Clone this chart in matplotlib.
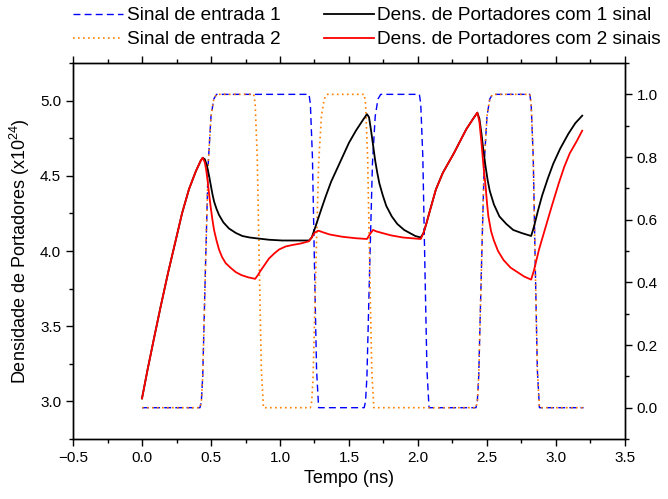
import numpy as np
import matplotlib.pyplot as plt
from matplotlib.ticker import MultipleLocator

plt.rcParams['font.family'] = ['Liberation Sans', 'DejaVu Sans']
plt.rcParams['mathtext.fontset'] = 'custom'
plt.rcParams['mathtext.rm'] = 'Liberation Sans'

# input signals (right axis)
t_sig1 = [0.00, 0.42, 0.43, 0.44, 0.46, 0.48, 0.50, 0.52, 0.54,
          1.21, 1.22, 1.235, 1.25, 1.265, 1.28,
          1.61, 1.62, 1.63, 1.65, 1.67, 1.69, 1.71, 1.73,
          2.01, 2.02, 2.035, 2.05, 2.065, 2.08,
          2.42, 2.43, 2.44, 2.46, 2.48, 2.50, 2.52, 2.54,
          2.81, 2.82, 2.835, 2.85, 2.865, 2.88, 3.20]
v_sig1 = [0.0, 0.0, 0.02, 0.10, 0.45, 0.78, 0.93, 0.985, 1.0,
          1.0, 0.97, 0.80, 0.45, 0.12, 0.0,
          0.0, 0.02, 0.10, 0.45, 0.78, 0.93, 0.985, 1.0,
          1.0, 0.97, 0.80, 0.45, 0.12, 0.0,
          0.0, 0.02, 0.10, 0.45, 0.78, 0.93, 0.985, 1.0,
          1.0, 0.97, 0.80, 0.45, 0.12, 0.0, 0.0]

t_sig2 = [0.00, 0.42, 0.43, 0.44, 0.46, 0.48, 0.50, 0.52, 0.54,
          0.81, 0.82, 0.835, 0.85, 0.865, 0.88,
          1.22, 1.23, 1.24, 1.26, 1.28, 1.30, 1.32, 1.34,
          1.61, 1.62, 1.635, 1.65, 1.665, 1.68,
          2.42, 2.43, 2.44, 2.46, 2.48, 2.50, 2.52, 2.54,
          2.81, 2.82, 2.835, 2.85, 2.865, 2.88, 3.20]
v_sig2 = [0.0, 0.0, 0.02, 0.10, 0.45, 0.78, 0.93, 0.985, 1.0,
          1.0, 0.97, 0.80, 0.45, 0.12, 0.0,
          0.0, 0.02, 0.10, 0.45, 0.78, 0.93, 0.985, 1.0,
          1.0, 0.97, 0.80, 0.45, 0.12, 0.0,
          0.0, 0.02, 0.10, 0.45, 0.78, 0.93, 0.985, 1.0,
          1.0, 0.97, 0.80, 0.45, 0.12, 0.0, 0.0]

# carrier density, one signal
t_n1 = [0.00, 0.04, 0.087, 0.135, 0.19, 0.244, 0.29, 0.34, 0.39, 0.425, 0.44,
        0.455, 0.47, 0.486, 0.50, 0.51, 0.522, 0.54, 0.558, 0.59, 0.63, 0.68,
        0.727, 0.78, 0.824, 0.92, 1.017, 1.12, 1.21,
        1.23, 1.26, 1.30, 1.33, 1.37, 1.41, 1.45, 1.50, 1.55, 1.60, 1.63,
        1.645, 1.66, 1.675, 1.69, 1.705, 1.72, 1.745, 1.77, 1.81, 1.85, 1.90,
        1.94, 1.98, 2.02,
        2.04, 2.06, 2.09, 2.13, 2.18, 2.26, 2.35, 2.40, 2.43,
        2.445, 2.46, 2.475, 2.49, 2.505, 2.52, 2.55, 2.59, 2.64, 2.69, 2.75,
        2.82, 2.84, 2.87, 2.90, 2.94, 2.98, 3.03, 3.09, 3.14, 3.19]
n1 = [3.02, 3.21, 3.42, 3.63, 3.86, 4.07, 4.25, 4.41, 4.53, 4.60, 4.62,
      4.61, 4.57, 4.50, 4.43, 4.38, 4.33, 4.28, 4.24, 4.19, 4.15, 4.12,
      4.10, 4.09, 4.085, 4.075, 4.07, 4.07, 4.07,
      4.09, 4.17, 4.28, 4.36, 4.46, 4.54, 4.62, 4.72, 4.80, 4.87, 4.91,
      4.89, 4.80, 4.70, 4.60, 4.52, 4.45, 4.37, 4.30, 4.23, 4.18, 4.14,
      4.12, 4.10, 4.09,
      4.12, 4.18, 4.28, 4.41, 4.52, 4.65, 4.81, 4.88, 4.92,
      4.88, 4.78, 4.66, 4.56, 4.47, 4.40, 4.31, 4.23, 4.18, 4.14, 4.12,
      4.10, 4.16, 4.27, 4.37, 4.48, 4.58, 4.68, 4.78, 4.85, 4.90]

# carrier density, two signals
t_n2 = [0.00, 0.04, 0.087, 0.135, 0.19, 0.244, 0.29, 0.34, 0.39, 0.425, 0.44,
        0.455, 0.465, 0.475, 0.486, 0.498, 0.51, 0.522, 0.54, 0.558, 0.58,
        0.606, 0.64, 0.679, 0.72, 0.77, 0.82,
        0.84, 0.86, 0.89, 0.92, 0.96, 0.993, 1.04, 1.09, 1.15, 1.21,
        1.23, 1.25, 1.265, 1.28, 1.31, 1.36, 1.45, 1.55, 1.63, 1.65, 1.674,
        1.70, 1.74, 1.80, 1.89, 2.02,
        2.04, 2.06, 2.09, 2.13, 2.18, 2.26, 2.35, 2.40, 2.43,
        2.445, 2.46, 2.475, 2.49, 2.50, 2.51, 2.53, 2.55, 2.58, 2.62, 2.67,
        2.72, 2.77, 2.82,
        2.84, 2.877, 2.925, 2.97, 3.02, 3.06, 3.10, 3.15, 3.19]
n2 = [3.02, 3.21, 3.42, 3.63, 3.86, 4.07, 4.25, 4.41, 4.53, 4.60, 4.62,
      4.59, 4.54, 4.47, 4.38, 4.29, 4.21, 4.14, 4.07, 4.01, 3.96,
      3.92, 3.89, 3.86, 3.84, 3.825, 3.815,
      3.84, 3.87, 3.91, 3.95, 3.985, 4.01, 4.03, 4.04, 4.05, 4.065,
      4.09, 4.12, 4.13, 4.135, 4.125, 4.11, 4.095, 4.085, 4.08, 4.11, 4.14,
      4.13, 4.12, 4.105, 4.09, 4.08,
      4.12, 4.18, 4.28, 4.41, 4.52, 4.65, 4.81, 4.88, 4.92,
      4.86, 4.72, 4.56, 4.43, 4.32, 4.23, 4.13, 4.07, 4.00, 3.94, 3.89,
      3.86, 3.83, 3.81,
      3.87, 4.01, 4.16, 4.30, 4.45, 4.56, 4.65, 4.73, 4.80]

fig = plt.figure(figsize=(6.68, 4.99), dpi=100)
ax = fig.add_axes([0.1093, 0.1202, 0.8263, 0.7535])
ax2 = ax.twinx()

l1, = ax2.plot(t_sig1, v_sig1, color='#0000ff', ls=(0, (5, 3)), lw=1.0)
l2, = ax2.plot(t_sig2, v_sig2, color='#ff8000', ls=(0, (1, 2)), lw=1.2)
l3, = ax.plot(t_n1, n1, color='k', lw=1.3)
l4, = ax.plot(t_n2, n2, color='#ff0000', lw=1.3)
ax.set_zorder(ax2.get_zorder() + 1)
ax.patch.set_visible(False)

ax.set_xlim(-0.5, 3.5)
ax.set_ylim(2.75, 5.25)
ax2.set_ylim(-0.1, 1.1)

ax.xaxis.set_major_locator(MultipleLocator(0.5))
ax.xaxis.set_minor_locator(MultipleLocator(0.25))
ax.yaxis.set_major_locator(MultipleLocator(0.5))
ax.yaxis.set_minor_locator(MultipleLocator(0.25))
ax2.yaxis.set_major_locator(MultipleLocator(0.2))
ax2.yaxis.set_minor_locator(MultipleLocator(0.1))
ax.xaxis.set_major_formatter('{x:.1f}')
ax.yaxis.set_major_formatter('{x:.1f}')
ax2.yaxis.set_major_formatter('{x:.1f}')

ax.tick_params(which='both', direction='out', top=True, right=False,
               labelsize=11, width=1.0)
ax.tick_params(which='major', length=5)
ax.tick_params(which='minor', length=3)
ax2.tick_params(which='both', direction='out', labelsize=11, width=1.0)
ax2.tick_params(which='major', length=5)
ax2.tick_params(which='minor', length=3)
for a in (ax, ax2):
    for s in a.spines.values():
        s.set_linewidth(1.0)

ax.set_xlabel('Tempo (ns)', fontsize=13, labelpad=4)
ax.set_ylabel(r'Densidade de Portadores (x10$^{24}$)', fontsize=13, labelpad=6)

fig.legend([l1, l2, l3, l4],
           ['Sinal de entrada 1', 'Sinal de entrada 2',
            'Dens. de Portadores com 1 sinal',
            'Dens. de Portadores com 2 sinais'],
           loc='upper left', bbox_to_anchor=(0.107, 0.99), ncol=2,
           frameon=False, fontsize=13.7, handlelength=2.6, handletextpad=0.2,
           columnspacing=2.3, labelspacing=0.35, borderpad=0.1,
           borderaxespad=0)

fig.savefig('out.png', dpi=100)
